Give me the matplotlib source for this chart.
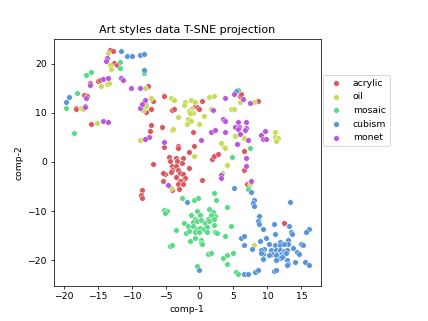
import colorsys
import numpy as np
import matplotlib
matplotlib.use("Agg")
import matplotlib.pyplot as plt

styles = ["acrylic", "oil", "mosaic", "cubism", "monet"]

acrylic = [(-13.1, 22.8), (-12.8, 22.5), (-12.6, 20.2), (-12.1, 19.7), (-16.1, 16.0), (-15.0, 16.4),
           (-14.7, 16.6), (-7.6, 15.5), (-17.0, 13.5), (-16.6, 13.3), (-18.2, 11.0), (-18.2, 10.7),
           (-16.0, 7.7), (-8.2, 11.9), (-7.8, 11.6), (-7.8, 10.2), (-7.2, 10.7), (-7.2, 7.4), (-7.3, 6.2),
           (-5.5, 7.1), (-5.2, 13.4), (-6.9, 12.3), (-4.0, 10.5), (-3.8, 10.8), (-5.2, 3.1), (-3.2, 3.3),
           (-3.2, 2.8), (-0.9, 6.1), (-0.6, 11.4), (-0.4, 11.1), (-0.1, 10.8), (0.3, 12.3), (5.9, 13.4),
           (6.1, 13.8), (8.6, 12.3), (6.6, 2.3), (-1.5, 2.1), (-0.8, 3.3), (1.8, 0.6), (2.1, 1.1),
           (2.8, 1.7), (6.5, -1.6), (-6.8, -0.5), (-4.5, 1.0), (-3.5, 0.8), (-2.4, 0.8), (-4.4, 0.1),
           (-3.3, 0.1), (-2.5, -0.2), (-4.1, -0.8), (-3.4, -0.8), (-4.0, -1.6), (-3.1, -1.6), (-1.6, -1.2),
           (-5.1, -2.4), (-5.4, -2.3), (-4.2, -2.1), (-2.8, -2.3), (-2.4, -2.4), (-3.5, -3.0), (-2.2, -3.3),
           (-2.6, -3.9), (-2.8, -3.8), (-5.4, -3.8), (-3.1, -4.5), (-2.4, -4.5), (0.3, -3.6), (-3.0, -5.6),
           (-4.0, -5.8), (-8.5, -5.8), (-8.6, -6.8), (-8.4, -7.3), (7.0, -4.6), (12.4, -12.5)]

oil = [(-13.4, 22.1), (-13.2, 19.6), (-13.0, 18.9), (-14.5, 15.4), (-13.6, 15.9), (-13.3, 16.1),
       (-17.4, 10.9), (-17.2, 10.7), (-15.1, 8.0), (-8.0, 15.0), (-7.1, 13.0), (-8.2, 11.0), (-8.3, 10.5),
       (-7.8, 11.3), (-8.8, 4.4), (-4.2, 13.0), (-3.8, 12.5), (-3.1, 9.1), (-4.0, 6.4), (-3.9, 6.6),
       (-2.1, 12.1), (-2.3, 11.5), (-1.2, 12.6), (-0.7, 12.2), (-1.3, 10.8), (-1.6, 10.3), (-0.9, 9.9),
       (-1.4, 9.9), (-1.7, 8.7), (-1.3, 8.4), (-1.9, 7.7), (0.0, 7.7), (0.7, 9.4), (1.4, 13.2), (2.2, 13.4),
       (1.7, 10.8), (4.7, 10.8), (5.1, 10.8), (6.0, 12.1), (8.1, 12.1), (5.2, 5.2), (6.6, 4.9), (11.1, 6.0),
       (11.1, 5.0), (11.6, 4.8), (11.3, 4.3), (3.1, 3.9), (3.6, 3.0), (3.8, 2.9), (-0.8, 1.1), (4.0, -0.7),
       (3.3, -2.3), (7.4, -4.6), (-4.2, -5.3), (8.1, -17.0)]

mosaic = [(-11.7, 20.4), (-11.7, 19.0), (-8.2, 18.1), (-16.7, 17.6), (-15.9, 18.2), (-18.1, 14.1),
          (-19.7, 11.0), (-18.4, 5.8), (5.7, 14.7), (7.4, 2.9), (4.8, 1.0), (7.1, -5.5), (2.2, -6.4),
          (2.5, -7.7), (-2.5, -7.4), (-0.8, -7.7), (-0.2, -7.4), (4.0, -9.1), (1.4, -9.6), (-5.2, -9.8),
          (-4.8, -9.9), (-5.1, -10.4), (-0.3, -9.9), (2.0, -10.2), (2.3, -11.0), (1.7, -10.9), (-1.3, -10.8),
          (0.1, -10.9), (-0.7, -11.6), (-0.9, -12.3), (-0.3, -12.0), (-2.3, -12.4), (0.2, -11.8), (0.8, -12.4),
          (1.2, -11.6), (1.4, -12.1), (2.2, -11.6), (-1.7, -13.1), (-1.0, -13.1), (-0.4, -13.6), (0.1, -13.4),
          (0.7, -13.7), (1.1, -13.3), (2.1, -12.8), (-3.5, -13.8), (-2.0, -14.4), (-1.6, -14.0), (-0.6, -14.3),
          (0.0, -14.3), (1.1, -14.2), (2.3, -14.3), (2.6, -14.4), (4.7, -13.1), (-0.7, -15.5), (0.2, -15.8),
          (-1.4, -16.1), (0.2, -16.5), (0.3, -16.8), (3.7, -15.1), (-4.4, -17.1), (-4.0, -16.9), (1.2, -18.8),
          (1.7, -18.6), (3.4, -19.5), (4.0, -18.9), (5.0, -18.5), (4.1, -20.7), (-0.3, -21.2), (5.4, -22.4),
          (5.6, -22.8)]

cubism = [(-11.5, 22.5), (-10.6, 21.5), (-10.0, 21.5), (-8.8, 21.8), (-8.2, 22.0), (-8.1, 18.6),
          (-19.2, 13.2), (-19.7, 12.1), (5.4, 14.4), (5.1, -5.3), (7.6, -6.1), (-1.8, -8.1), (8.0, -7.7),
          (7.9, -8.4), (8.1, -8.9), (13.3, -8.2), (8.7, -11.1), (8.6, -12.1), (8.8, -12.6), (10.9, -12.6),
          (13.2, -13.0), (9.4, -13.6), (13.5, -14.2), (13.6, -14.6), (16.1, -13.7), (15.7, -14.2), (6.1, -15.4),
          (6.6, -15.0), (9.8, -15.5), (11.1, -14.6), (8.9, -16.0), (13.1, -15.8), (13.1, -16.7), (11.9, -16.3),
          (11.1, -17.0), (10.3, -16.7), (11.8, -17.0), (12.4, -16.7), (6.5, -17.0), (7.7, -17.7), (9.5, -17.7),
          (9.0, -17.9), (9.3, -18.7), (9.1, -18.5), (10.5, -18.0), (10.7, -18.7), (11.3, -17.9), (11.4, -18.7),
          (11.9, -18.0), (12.2, -18.6), (12.4, -18.1), (12.5, -18.8), (12.9, -18.0), (12.8, -18.6), (13.7, -17.5),
          (14.4, -18.4), (14.6, -18.7), (15.0, -16.7), (15.2, -17.0), (10.3, -19.0), (11.3, -19.0), (11.9, -19.5),
          (12.2, -19.4), (9.3, -19.8), (11.2, -19.9), (12.9, -19.9), (14.0, -20.4), (15.5, -20.4), (16.1, -20.9),
          (13.1, -20.7), (12.9, -20.9), (11.0, -22.1), (11.3, -21.9), (8.2, -22.3), (8.6, -21.9), (6.6, -22.9),
          (7.2, -22.8), (-0.1, -21.9)]

monet = [(-13.6, 21.2), (-13.7, 20.6), (-16.1, 15.7), (-14.2, 16.8), (-13.5, 17.0), (-11.5, 17.1),
         (-11.2, 16.7), (-10.1, 15.1), (-8.7, 15.0), (-16.7, 12.9), (-16.9, 11.3), (-16.9, 11.1), (-14.2, 8.3),
         (-13.5, 8.2), (-8.0, 12.6), (-8.8, 10.9), (-7.4, 5.0), (-8.0, 4.6), (-5.2, 4.0), (-8.4, 11.7),
         (2.0, 10.5), (3.8, 13.0), (5.1, 13.7), (6.4, 12.8), (7.4, 11.9), (3.5, 8.8), (3.8, 8.4), (5.6, 8.1),
         (6.8, 8.1), (5.2, 7.1), (5.8, 7.1), (6.8, 6.9), (5.7, 6.7), (6.7, 6.5), (5.9, 5.6), (7.2, 4.5),
         (5.5, 3.7), (9.0, 5.4), (9.7, 6.2), (9.3, 4.7), (9.8, 4.7), (1.7, 6.0), (2.3, 6.4), (3.7, 6.0),
         (0.2, 4.5), (6.8, 0.8), (6.9, -0.8), (3.1, -2.6), (3.2, -3.2), (7.6, -3.9), (-4.7, -4.7)]

# same colours as seaborn's "hls" palette with 5 entries
hues = np.linspace(0, 1, 6)[:-1] - 0.01
colores = [colorsys.hls_to_rgb(h % 1, 0.6, 0.65) for h in hues]

fig, ax = plt.subplots(figsize=(6.4, 4.8), dpi=428 / 6.4)
fig.subplots_adjust(right=0.75)

for nombre, puntos, color in zip(styles, [acrylic, oil, mosaic, cubism, monet], colores):
    pts = np.array(puntos)
    ax.scatter(pts[:, 0], pts[:, 1], s=36, color=color, edgecolor="white",
               linewidth=0.5, label=nombre)

ax.set_title("Art styles data T-SNE projection")
ax.set_xlabel("comp-1")
ax.set_ylabel("comp-2")
ax.set_xticks([-20, -15, -10, -5, 0, 5, 10, 15])
ax.set_yticks([-20, -10, 0, 10, 20])
ax.legend(loc="upper left", bbox_to_anchor=(1.008, 0.853), borderaxespad=0)

fig.savefig("out.png", dpi=428 / 6.4)
